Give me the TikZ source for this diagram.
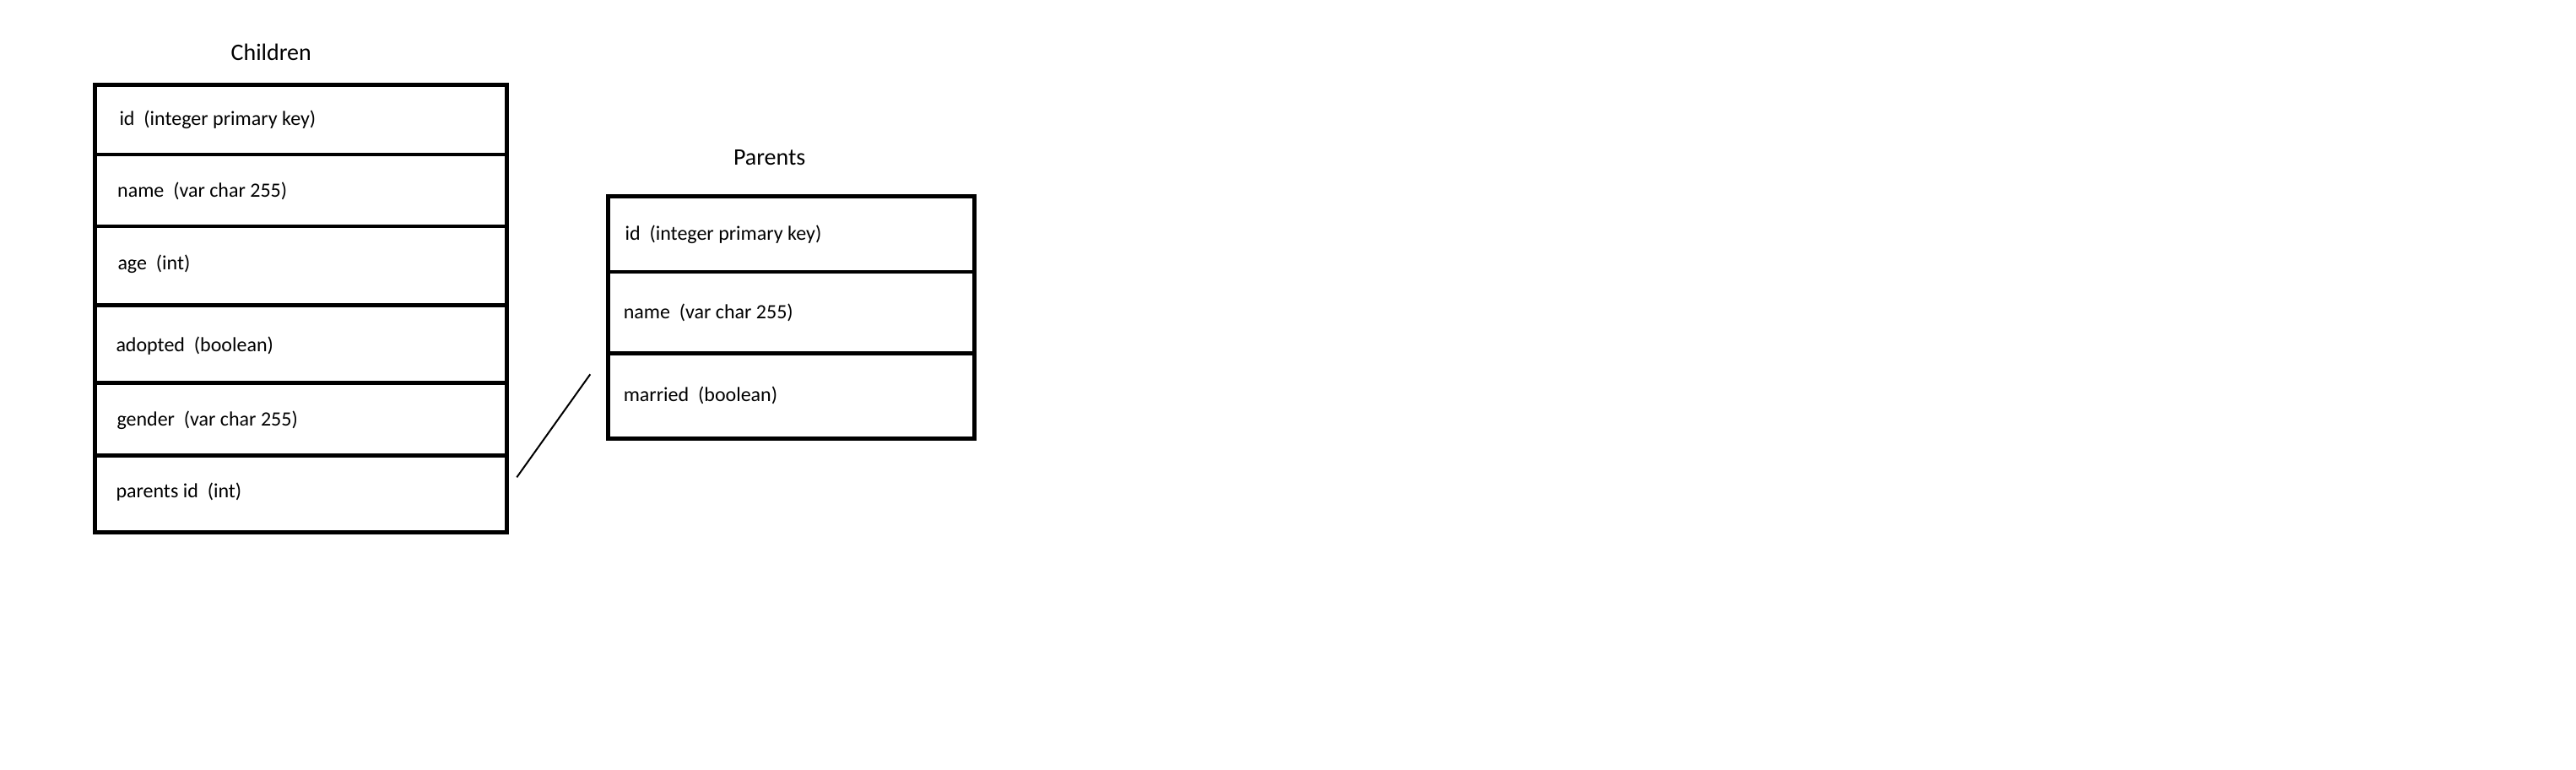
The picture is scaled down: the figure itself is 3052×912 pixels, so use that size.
\documentclass[tikz,border=0pt]{standalone}
\usepackage{fontspec}
\setmainfont{Carlito}
\begin{document}
\begin{tikzpicture}[x=1pt,y=-1pt,
  field/.style={font=\fontsize{24}{28}\selectfont, anchor=base west, inner sep=0pt, outer sep=0pt, text=black},
  tabletitle/.style={font=\fontsize{28}{32}\selectfont, anchor=base, inner sep=0pt, outer sep=0pt, text=black},
  rowbox/.style={draw=black, line width=4.5pt, inner sep=0pt, outer sep=0pt, rectangle},
  frame/.style={draw=black, line width=5pt},
  link/.style={draw=black, line width=2pt}]
\useasboundingbox[fill=white] (0,0) rectangle (3052,912);

% Children table
\node[tabletitle] (ctitle) at (321.3,71.7) {Children};
\node[rowbox, minimum width=488pt, minimum height=82pt]   (c1) at (356,142) {};
\node[rowbox, minimum width=488pt, minimum height=85pt]   (c2) at (356,225.5) {};
\node[rowbox, minimum width=488pt, minimum height=93.5pt] (c3) at (356,314.75) {};
\node[rowbox, minimum width=488pt, minimum height=92pt]   (c4) at (356,407.5) {};
\node[rowbox, minimum width=488pt, minimum height=86pt]   (c5) at (356,496.5) {};
\node[rowbox, minimum width=488pt, minimum height=90.5pt] (c6) at (356,584.75) {};
\draw[frame] (c1.north west) rectangle (c6.south east);

\node[field] (c1t) at (141.5,148.3) {id\ \ (integer primary key)};
\node[field] (c2t) at (139.2,233.3) {name\ \ (var char 255)};
\node[field] (c3t) at (139.5,319.3) {age\ \ (int)};
\node[field] (c4t) at (137.5,416) {adopted\ \ (boolean)};
\node[field] (c5t) at (138.5,504.3) {gender\ \ (var char 255)};
\node[field] (c6t) at (137.5,589.3) {parents id\ \ (int)};

% Parents table
\node[tabletitle] (ptitle) at (911.7,196) {Parents};
\node[rowbox, minimum width=434pt, minimum height=89.5pt]  (p1) at (937,277.25) {};
\node[rowbox, minimum width=434pt, minimum height=96.7pt]  (p2) at (937,370.35) {};
\node[rowbox, minimum width=434pt, minimum height=100.3pt] (p3) at (937,468.85) {};
\draw[frame] (p1.north west) rectangle (p3.south east);

\node[field] (p1t) at (740.6,284) {id\ \ (integer primary key)};
\node[field] (p2t) at (738.8,377.3) {name\ \ (var char 255)};
\node[field] (p3t) at (738.8,475) {married\ \ (boolean)};

% connector
\coordinate (la) at (612.3,565.3);
\coordinate (lb) at (699.3,443.3);
\draw[link] (la) -- (lb);
\end{tikzpicture}
\end{document}
